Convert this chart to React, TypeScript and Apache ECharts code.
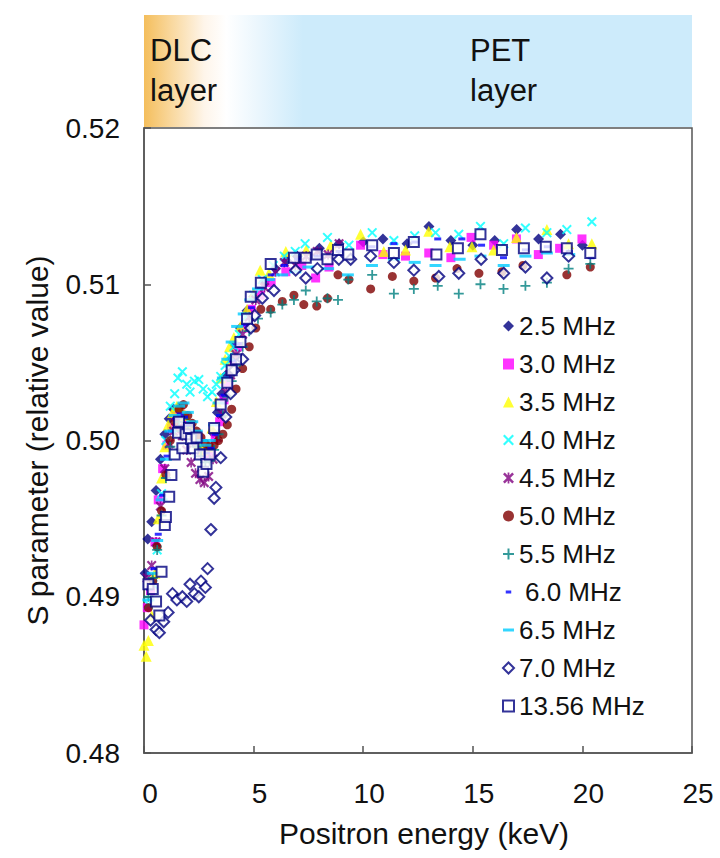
import React, { useEffect, useRef } from 'react';
import * as echarts from 'echarts';

// ---- data: [positron energy (keV), S parameter] ----
const seriesNames = ['2.5 MHz', '3.0 MHz', '3.5 MHz', '4.0 MHz', '4.5 MHz', '5.0 MHz', '5.5 MHz', '6.0 MHz', '6.5 MHz', '7.0 MHz', '13.56 MHz'];
const xTicks = [0, 5, 10, 15, 20, 25];
const yTicks = [0.48, 0.49, 0.5, 0.51, 0.52];

const s25: number[][] = [[0.05,0.4915],[0.17,0.4937],[0.35,0.4948],[0.55,0.4968],[0.75,0.4988],[0.95,0.5004],[1.15,0.5014],[1.35,0.502],[1.55,0.5021],[1.75,0.5016],[1.95,0.501],[2.15,0.5004],[2.35,0.4998],[2.55,0.4993],[2.75,0.499],[2.95,0.4994],[3.15,0.5005],[3.35,0.5018],[3.55,0.503],[3.75,0.5042],[3.95,0.5052],[4.15,0.5061],[4.4,0.5072],[4.7,0.5083],[5.0,0.5092],[5.5,0.5102],[6.0,0.511],[6.5,0.5115],[7.0,0.5118],[8.0,0.5123],[8.9,0.5126],[10.0,0.5127],[10.9,0.5129],[12.0,0.5126],[13.0,0.5137],[14.0,0.5128],[15.0,0.5125],[16.0,0.5128],[17.0,0.5135],[18.0,0.5129],[19.0,0.5132],[20.0,0.5125]];
const s30: number[][] = [[0.0,0.4882],[0.15,0.4893],[0.3,0.4904],[0.5,0.4935],[0.65,0.4962],[0.85,0.4982],[1.05,0.4997],[1.25,0.5008],[1.45,0.5015],[1.65,0.5018],[1.85,0.5014],[2.05,0.5008],[2.25,0.5003],[2.45,0.4998],[2.65,0.4992],[2.85,0.499],[3.05,0.4992],[3.25,0.5001],[3.45,0.5012],[3.65,0.5026],[3.85,0.5037],[4.05,0.5049],[4.3,0.506],[4.6,0.5072],[4.9,0.5084],[5.3,0.5093],[5.8,0.5101],[6.47,0.5108],[7.2,0.5112],[7.83,0.5104],[8.44,0.5111],[9.88,0.5125],[10.9,0.5119],[11.93,0.5118],[12.99,0.512],[14.0,0.5117],[14.92,0.513],[15.95,0.5125],[16.99,0.5129],[17.99,0.5119],[18.96,0.5123],[19.98,0.5129]];
const s35: number[][] = [[0.0,0.4869],[0.1,0.4862],[0.2,0.4872],[0.35,0.4888],[0.5,0.4915],[0.65,0.495],[0.8,0.4976],[0.95,0.4996],[1.1,0.501],[1.3,0.5018],[1.5,0.5022],[1.7,0.502],[1.9,0.5016],[2.1,0.501],[2.3,0.5004],[2.5,0.4998],[2.7,0.4994],[2.9,0.4996],[3.1,0.5008],[3.3,0.5025],[3.5,0.504],[3.7,0.5052],[3.9,0.506],[4.1,0.5066],[4.4,0.5073],[4.7,0.5084],[5.0,0.5094],[5.3,0.5109],[5.7,0.5107],[6.47,0.5121],[7.4,0.5122],[8.52,0.5125],[9.88,0.5132],[10.94,0.5121],[11.93,0.5122],[12.99,0.5134],[13.95,0.5124],[14.96,0.5124],[15.95,0.5122],[16.99,0.513],[18.38,0.5135],[19.37,0.5126],[20.43,0.5126]];
const s40: number[][] = [[0.2,0.4895],[0.4,0.4908],[0.6,0.493],[0.8,0.4966],[1.0,0.5],[1.2,0.5022],[1.4,0.503],[1.55,0.504],[1.75,0.5044],[1.95,0.5036],[2.1,0.5031],[2.3,0.5038],[2.5,0.5039],[2.7,0.5033],[2.9,0.5028],[3.1,0.5031],[3.3,0.5036],[3.5,0.5041],[3.7,0.5048],[3.9,0.5054],[4.1,0.506],[4.35,0.5068],[4.65,0.5079],[5.0,0.5093],[5.4,0.5103],[5.9,0.5112],[6.4,0.5118],[6.9,0.5121],[7.35,0.5126],[8.37,0.513],[9.35,0.5125],[10.41,0.5133],[11.4,0.5128],[12.35,0.5131],[13.3,0.5133],[14.36,0.5132],[15.35,0.5137],[16.41,0.5126],[17.4,0.5136],[18.38,0.5133],[19.29,0.5135],[20.43,0.514]];
const s45: number[][] = [[0.15,0.4912],[0.35,0.492],[0.55,0.4935],[0.75,0.4958],[0.95,0.4982],[1.15,0.4998],[1.35,0.5006],[1.55,0.5008],[1.75,0.5003],[1.95,0.4994],[2.15,0.4986],[2.35,0.4979],[2.55,0.4975],[2.75,0.4973],[2.95,0.4977],[3.15,0.4988],[3.35,0.5002],[3.55,0.5017],[3.75,0.5031],[3.95,0.5042],[4.2,0.5055],[4.5,0.5068],[4.8,0.5079],[5.1,0.509],[5.5,0.5098],[6.0,0.5108],[6.4,0.5114],[6.9,0.5112],[7.4,0.5118],[7.9,0.5121],[8.4,0.5119],[8.9,0.5126]];
const s50: number[][] = [[0.2,0.4893],[0.4,0.491],[0.6,0.4932],[0.8,0.4955],[1.0,0.4978],[1.2,0.5],[1.4,0.5012],[1.6,0.502],[1.8,0.5023],[2.0,0.5016],[2.2,0.5011],[2.4,0.5006],[2.6,0.5002],[2.8,0.4998],[3.0,0.4996],[3.2,0.4997],[3.4,0.5],[3.6,0.5004],[3.8,0.501],[4.0,0.502],[4.2,0.5033],[4.5,0.5046],[4.8,0.506],[5.1,0.5072],[5.33,0.5084],[5.78,0.5084],[6.31,0.5089],[6.84,0.5093],[7.29,0.5087],[7.88,0.5086],[8.37,0.5091],[8.85,0.5106],[9.35,0.5103],[10.34,0.5097],[11.33,0.5105],[12.31,0.5102],[13.3,0.5104],[14.28,0.511],[15.28,0.5107],[16.33,0.5108],[17.29,0.5112],[19.29,0.5106],[20.36,0.5111]];
const s55: number[][] = [[0.2,0.49],[0.4,0.4912],[0.6,0.493],[0.8,0.4952],[1.0,0.4976],[1.2,0.4996],[1.4,0.5006],[1.6,0.5012],[1.8,0.5014],[2.0,0.5009],[2.2,0.5003],[2.4,0.4996],[2.6,0.499],[2.8,0.4986],[3.0,0.4987],[3.2,0.4994],[3.4,0.5004],[3.6,0.5016],[3.8,0.5028],[4.0,0.5038],[4.2,0.5048],[4.5,0.506],[4.8,0.507],[5.2,0.5078],[5.78,0.5082],[6.31,0.5087],[6.84,0.509],[7.38,0.5096],[7.88,0.5089],[8.37,0.5091],[8.85,0.509],[9.32,0.5103],[10.41,0.5106],[11.4,0.5094],[12.31,0.5097],[13.4,0.5099],[14.36,0.5094],[15.35,0.51],[16.4,0.5097],[17.4,0.5099],[18.38,0.5101],[19.37,0.511],[20.36,0.5113]];
const s60: number[][] = [[0.25,0.4905],[0.45,0.4918],[0.65,0.494],[0.85,0.4965],[1.05,0.499],[1.25,0.5006],[1.45,0.5014],[1.65,0.5017],[1.85,0.5015],[2.05,0.501],[2.25,0.5004],[2.45,0.4999],[2.65,0.4994],[2.85,0.4992],[3.05,0.4995],[3.25,0.5004],[3.45,0.5016],[3.65,0.5029],[3.85,0.504],[4.05,0.5051],[4.3,0.5062],[4.6,0.5074],[4.9,0.5085],[5.3,0.5098],[5.8,0.5106],[6.4,0.5112],[7.0,0.5116],[7.9,0.5118],[8.9,0.5121],[10.4,0.5124],[11.4,0.5126],[12.35,0.5127],[13.4,0.5129],[14.5,0.5129],[15.4,0.5125],[16.4,0.5117],[17.4,0.5122],[18.4,0.5124],[19.4,0.5121],[20.4,0.5117]];
const s65: number[][] = [[0.2,0.4898],[0.4,0.4915],[0.6,0.4936],[0.8,0.4962],[1.0,0.4988],[1.2,0.5006],[1.4,0.5016],[1.6,0.5022],[1.8,0.5024],[2.0,0.5018],[2.2,0.5012],[2.4,0.5006],[2.6,0.5],[2.8,0.4997],[3.0,0.5],[3.2,0.501],[3.4,0.5024],[3.6,0.504],[3.8,0.5052],[4.0,0.5063],[4.25,0.5073],[4.55,0.5081],[4.85,0.509],[5.2,0.5097],[5.7,0.5103],[6.3,0.5106],[6.9,0.5108],[7.5,0.5111],[8.4,0.511],[9.3,0.5106],[10.4,0.5112],[11.4,0.5116],[12.35,0.5114],[13.3,0.5112],[14.4,0.5116],[15.35,0.5118],[16.41,0.5112],[17.4,0.5118],[18.38,0.512],[19.4,0.5119]];
const s70: number[][] = [[0.3,0.4885],[0.55,0.4879],[0.7,0.4877],[0.9,0.4884],[1.1,0.489],[1.3,0.4902],[1.5,0.4898],[1.75,0.49],[1.95,0.4897],[2.1,0.4908],[2.3,0.4902],[2.5,0.49],[2.6,0.491],[2.8,0.4906],[2.9,0.4918],[3.05,0.4943],[3.2,0.4963],[3.28,0.497],[3.5,0.4989],[3.73,0.5015],[3.95,0.503],[4.11,0.5045],[4.5,0.5052],[4.87,0.5072],[5.05,0.508],[5.4,0.5091],[5.93,0.5096],[6.92,0.5109],[7.38,0.5104],[7.91,0.511],[8.89,0.5116],[9.43,0.5116],[10.34,0.5118],[11.4,0.5114],[12.31,0.5109],[13.45,0.5105],[14.36,0.5107],[15.38,0.5116],[16.41,0.5107],[17.4,0.5111],[18.38,0.5104],[19.37,0.5118]];
const s1356: number[][] = [[0.2,0.4908],[0.4,0.4905],[0.55,0.4897],[0.7,0.4888],[0.8,0.4916],[0.95,0.4946],[1.0,0.4951],[1.15,0.4964],[1.25,0.4978],[1.4,0.4991],[1.55,0.5005],[1.6,0.5012],[1.75,0.4995],[1.9,0.5004],[2.05,0.5008],[2.15,0.5001],[2.25,0.4995],[2.4,0.5002],[2.55,0.4991],[2.7,0.498],[2.85,0.4985],[3.0,0.4991],[3.2,0.5008],[3.5,0.5023],[3.8,0.5037],[4.0,0.5045],[4.2,0.5052],[4.4,0.5063],[4.7,0.5078],[4.87,0.5092],[5.33,0.5101],[5.78,0.5113],[6.84,0.5117],[7.38,0.5117],[7.88,0.5119],[8.37,0.5116],[8.85,0.5122],[9.32,0.5119],[10.41,0.5125],[11.4,0.512],[12.31,0.5127],[13.34,0.5119],[14.32,0.5123],[15.35,0.5132],[16.33,0.5122],[17.33,0.5123],[18.33,0.5124],[19.29,0.5123],[20.36,0.512]];

const seriesData = [s25, s30, s35, s40, s45, s50, s55, s60, s65, s70, s1356];

// ---- marker styles ----
const NAVY = '#000080';
const X_PATH = 'path://M0,1.4L1.4,0L5,3.6L8.6,0L10,1.4L6.4,5L10,8.6L8.6,10L5,6.4L1.4,10L0,8.6L3.6,5Z';
const PLUS_PATH = 'path://M4.1,0H5.9V4.1H10V5.9H5.9V10H4.1V5.9H0V4.1H4.1Z';
const AST_PATH = 'path://M0,1.6L1.6,0L5,3.4L8.4,0L10,1.6L6.6,5L10,8.4L8.4,10L5,6.6L1.6,10L0,8.4L3.4,5Z M4.2,0H5.8V10H4.2Z';
const SHORT_DASH_ICON = 'path://M0,0L0.01,0L0.01,0.01Z M2.5,3.6H7.5V6.4H2.5Z M10,10L10.01,10L10.01,10.01Z';
const LONG_DASH_ICON = 'path://M0,0L0.01,0L0.01,0.01Z M0,3.6H10V6.4H0Z M10,10L10.01,10L10.01,10.01Z';

const styles: any[] = [
  { symbol: 'diamond', symbolSize: 11, itemStyle: { color: NAVY } },
  { symbol: 'rect', symbolSize: 9, itemStyle: { color: '#FF00FF' } },
  { symbol: 'triangle', symbolSize: 11, itemStyle: { color: '#FFFF00' } },
  { symbol: X_PATH, symbolSize: 10, itemStyle: { color: '#00FFFF' } },
  { symbol: AST_PATH, symbolSize: 10, itemStyle: { color: '#800080' } },
  { symbol: 'circle', symbolSize: 9, itemStyle: { color: '#800000' } },
  { symbol: PLUS_PATH, symbolSize: 10, itemStyle: { color: '#008080' } },
  { symbol: 'rect', symbolSize: [7, 3], itemStyle: { color: '#0000FF' } },
  { symbol: 'rect', symbolSize: [12, 3], itemStyle: { color: '#00CCFF' } },
  { symbol: 'diamond', symbolSize: 11, itemStyle: { color: '#FFFFFF', borderColor: NAVY, borderWidth: 2 } },
  { symbol: 'rect', symbolSize: 10, itemStyle: { color: '#FFFFFF', borderColor: NAVY, borderWidth: 2 } },
];

const FONT = 'Liberation Sans';

export default function App() {
  const ref = useRef<HTMLDivElement>(null);
  useEffect(() => {
    const chart = echarts.init(ref.current as HTMLDivElement, null, { renderer: 'svg' });
    const option: any = {
      animation: false,
      backgroundColor: '#ffffff',
      textStyle: { fontFamily: FONT },
      grid: {
        left: 144, right: 28, top: 128, bottom: 105,
        show: true, borderColor: '#555', borderWidth: 1.5,
        outerBoundsMode: 'none',
      },
      xAxis: {
        type: 'value', min: xTicks[0], max: xTicks[xTicks.length - 1], interval: 5,
        name: 'Positron energy (keV)', nameLocation: 'middle', nameGap: 65,
        nameTextStyle: { fontSize: 30, color: '#111', fontFamily: FONT, padding: [0, 0, 0, 12] },
        axisLine: { lineStyle: { color: '#555', width: 1.5 } },
        axisTick: { inside: true, length: 7, lineStyle: { color: '#555', width: 1.5 } },
        axisLabel: { fontSize: 28, color: '#111', margin: 26, fontFamily: FONT, padding: [0, 0, 0, 12] },
        splitLine: { show: false },
      },
      yAxis: {
        type: 'value', min: yTicks[0], max: yTicks[yTicks.length - 1], interval: 0.01,
        name: 'S parameter (relative value)', nameLocation: 'middle', nameGap: 92,
        nameTextStyle: { fontSize: 30, color: '#111', fontFamily: FONT },
        axisLine: { lineStyle: { color: '#555', width: 1.5 } },
        axisTick: { inside: true, length: 7, lineStyle: { color: '#555', width: 1.5 } },
        axisLabel: { fontSize: 28, color: '#111', margin: 24, fontFamily: FONT, formatter: (v: number) => v.toFixed(2) },
        splitLine: { show: false },
      },
      legend: {
        orient: 'vertical', left: 502, top: 313, padding: 0,
        itemWidth: 11, itemHeight: 11, itemGap: 12,
        selectedMode: false,
        textStyle: { fontSize: 26, color: '#111', fontFamily: FONT, lineHeight: 26 },
        data: seriesNames.map((n, i) => {
          if (i === 7) return { name: n, icon: SHORT_DASH_ICON, textStyle: { padding: [0, 0, 0, 6] } };
          if (i === 8) return { name: n, icon: LONG_DASH_ICON };
          return { name: n };
        }),
      },
      graphic: [
        {
          type: 'rect', shape: { x: 144, y: 15, width: 548, height: 112 }, silent: true,
          style: {
            fill: new echarts.graphic.LinearGradient(0, 0, 1, 0, [
              { offset: 0, color: '#F4BE5C' },
              { offset: 0.05, color: '#F9D89E' },
              { offset: 0.11, color: '#FEF5EA' },
              { offset: 0.15, color: '#FFFFFF' },
              { offset: 0.21, color: '#EAF6FD' },
              { offset: 0.29, color: '#CDEBFB' },
              { offset: 1, color: '#CDEBFB' },
            ]),
          },
        },
        { type: 'text', x: 150, y: 50, silent: true, style: { text: 'DLC', fontSize: 31, fontFamily: FONT, fill: '#111', verticalAlign: 'middle' } },
        { type: 'text', x: 150, y: 90, silent: true, style: { text: 'layer', fontSize: 31, fontFamily: FONT, fill: '#111', verticalAlign: 'middle' } },
        { type: 'text', x: 470, y: 50, silent: true, style: { text: 'PET', fontSize: 31, fontFamily: FONT, fill: '#111', verticalAlign: 'middle' } },
        { type: 'text', x: 470, y: 90, silent: true, style: { text: 'layer', fontSize: 31, fontFamily: FONT, fill: '#111', verticalAlign: 'middle' } },
      ],
      series: seriesData.map((d, i) => ({
        name: seriesNames[i],
        type: 'scatter',
        data: d,
        symbol: styles[i].symbol,
        symbolSize: styles[i].symbolSize,
        itemStyle: styles[i].itemStyle,
        emphasis: { disabled: true },
      })),
    };
    chart.setOption(option);
    return () => chart.dispose();
  }, []);
  return <div ref={ref} style={{ position: 'fixed', left: 0, top: 0, width: 720, height: 858, background: '#fff' }} />;
}
